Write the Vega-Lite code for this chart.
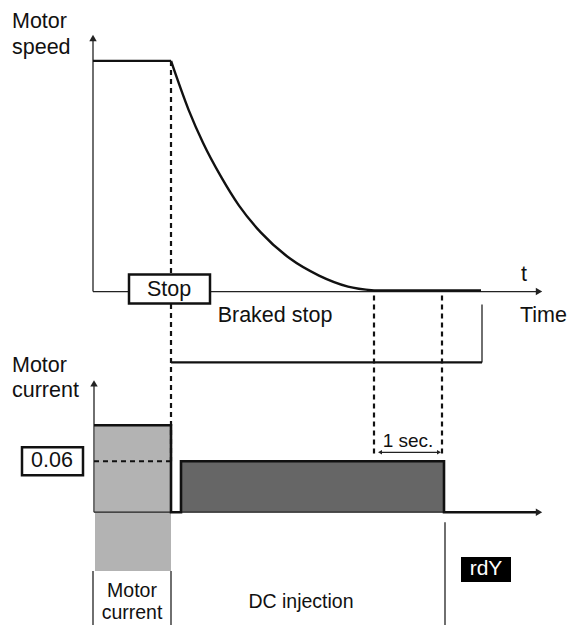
{
  "$schema": "https://vega.github.io/schema/vega-lite/v6.json",
  "width": 568,
  "height": 626,
  "autosize": {"type": "fit", "contains": "padding"},
  "padding": 0,
  "background": "white",
  "config": {"view": {"stroke": null}, "text": {"font": "Liberation Sans", "baseline": "middle", "color": "#111"}},
  "datasets": {
    "fills": [
      {"part": "running current", "x": 95, "x2": 171, "y": 426, "y2": 572},
      {"part": "DC injection", "x": 181, "x2": 444, "y": 462, "y2": 513}
    ],
    "boxes": [
      {"box": "Stop", "x": 129, "x2": 210, "y": 275, "y2": 304},
      {"box": "0.06", "x": 22, "x2": 83, "y": 448, "y2": 476}
    ],
    "rdybox": [{"box": "rdY", "x": 461, "x2": 511, "y": 558, "y2": 583}],
    "speed": [
      {"seg": "run", "i": 0, "x": 93, "y": 61},
      {"seg": "run", "i": 1, "x": 171, "y": 61},
      {"seg": "decel", "i": 2, "x": 171, "y": 61},
      {"seg": "decel", "i": 3, "x": 188.6, "y": 110},
      {"seg": "decel", "i": 4, "x": 203, "y": 143},
      {"seg": "decel", "i": 5, "x": 221, "y": 177},
      {"seg": "decel", "i": 6, "x": 239, "y": 206},
      {"seg": "decel", "i": 7, "x": 261, "y": 233},
      {"seg": "decel", "i": 8, "x": 290, "y": 259},
      {"seg": "decel", "i": 9, "x": 319, "y": 276},
      {"seg": "decel", "i": 10, "x": 348, "y": 287},
      {"seg": "decel", "i": 11, "x": 374, "y": 291},
      {"seg": "stopped", "i": 12, "x": 374, "y": 291},
      {"seg": "stopped", "i": 13, "x": 481, "y": 291}
    ],
    "current": [
      {"i": 0, "x": 94, "y": 426},
      {"i": 1, "x": 171, "y": 426},
      {"i": 2, "x": 171, "y": 513},
      {"i": 3, "x": 181, "y": 513},
      {"i": 4, "x": 181, "y": 462},
      {"i": 5, "x": 444, "y": 462},
      {"i": 6, "x": 444, "y": 513},
      {"i": 7, "x": 538, "y": 513}
    ],
    "thin": [
      {"x": 93, "y": 292, "x2": 93, "y2": 40},
      {"x": 93, "y": 292, "x2": 536, "y2": 292},
      {"x": 94, "y": 513, "x2": 94, "y2": 386},
      {"x": 94, "y": 513, "x2": 536, "y2": 513},
      {"x": 482, "y": 305, "x2": 482, "y2": 363},
      {"x": 445, "y": 523, "x2": 445, "y2": 626},
      {"x": 93, "y": 572, "x2": 93, "y2": 626},
      {"x": 171, "y": 572, "x2": 171, "y2": 626},
      {"x": 380, "y": 453, "x2": 439, "y2": 453}
    ],
    "thick": [
      {"x": 171, "y": 363, "x2": 482, "y2": 363}
    ],
    "dashed": [
      {"x": 171, "y": 61, "x2": 171, "y2": 462},
      {"x": 374, "y": 296, "x2": 374, "y2": 456},
      {"x": 442, "y": 296, "x2": 442, "y2": 456},
      {"x": 94, "y": 462, "x2": 171, "y2": 462}
    ],
    "bigArrows": [
      {"dir": "up", "x": 93, "y": 38},
      {"dir": "up", "x": 94, "y": 384},
      {"dir": "right", "x": 539, "y": 292},
      {"dir": "right", "x": 539, "y": 513}
    ],
    "smallArrows": [
      {"dir": "left", "x": 380, "y": 453},
      {"dir": "right", "x": 439, "y": 453}
    ],
    "labelsLeft": [
      {"t": "Motor", "x": 12, "y": 22},
      {"t": "speed", "x": 12, "y": 48},
      {"t": "Motor", "x": 12, "y": 367},
      {"t": "current", "x": 12, "y": 392},
      {"t": "t", "x": 521, "y": 275},
      {"t": "Time", "x": 520, "y": 317}
    ],
    "labelsCenter": [
      {"t": "Stop", "x": 169, "y": 290},
      {"t": "Braked stop", "x": 275, "y": 317},
      {"t": "0.06", "x": 52, "y": 462}
    ],
    "labelsSmall": [
      {"t": "Motor", "x": 132, "y": 592},
      {"t": "current", "x": 132, "y": 614},
      {"t": "DC injection", "x": 301, "y": 603}
    ],
    "labelsTiny": [
      {"t": "1 sec.", "x": 408, "y": 442}
    ],
    "labelsWhite": [
      {"t": "rdY", "x": 486, "y": 570}
    ]
  },
  "layer": [
    {
      "data": {"name": "fills"},
      "mark": {"type": "rect"},
      "encoding": {
        "x": {"field": "x", "type": "quantitative", "scale": {"domain": [0, 568], "nice": false, "zero": false}, "axis": null},
        "x2": {"field": "x2"},
        "y": {"field": "y", "type": "quantitative", "scale": {"domain": [0, 626], "reverse": true, "nice": false, "zero": false}, "axis": null},
        "y2": {"field": "y2"},
        "color": {"field": "part", "type": "nominal", "scale": {"domain": ["running current", "DC injection"], "range": ["#b3b3b3", "#666666"]}, "legend": null}
      }
    },
    {
      "data": {"name": "thin"},
      "mark": {"type": "rule", "color": "#222", "strokeWidth": 1.3},
      "encoding": {
        "x": {"field": "x", "type": "quantitative"},
        "x2": {"field": "x2"},
        "y": {"field": "y", "type": "quantitative"},
        "y2": {"field": "y2"}
      }
    },
    {
      "data": {"name": "thick"},
      "mark": {"type": "rule", "color": "#111", "strokeWidth": 2.2},
      "encoding": {
        "x": {"field": "x", "type": "quantitative"},
        "x2": {"field": "x2"},
        "y": {"field": "y", "type": "quantitative"},
        "y2": {"field": "y2"}
      }
    },
    {
      "data": {"name": "dashed"},
      "mark": {"type": "rule", "color": "#111", "strokeWidth": 2.2, "strokeDash": [5, 4]},
      "encoding": {
        "x": {"field": "x", "type": "quantitative"},
        "x2": {"field": "x2"},
        "y": {"field": "y", "type": "quantitative"},
        "y2": {"field": "y2"}
      }
    },
    {
      "data": {"name": "speed"},
      "mark": {"type": "line", "color": "#111", "strokeWidth": 2.4, "interpolate": "monotone"},
      "encoding": {
        "x": {"field": "x", "type": "quantitative"},
        "y": {"field": "y", "type": "quantitative"},
        "detail": {"field": "seg", "type": "nominal"},
        "order": {"field": "i", "type": "quantitative"}
      }
    },
    {
      "data": {"name": "current"},
      "mark": {"type": "line", "color": "#111", "strokeWidth": 2.6, "strokeJoin": "miter"},
      "encoding": {
        "x": {"field": "x", "type": "quantitative"},
        "y": {"field": "y", "type": "quantitative"},
        "order": {"field": "i", "type": "quantitative"}
      }
    },
    {
      "data": {"name": "bigArrows"},
      "mark": {"type": "point", "filled": true, "color": "#222", "opacity": 1, "size": 55},
      "encoding": {
        "x": {"field": "x", "type": "quantitative"},
        "y": {"field": "y", "type": "quantitative"},
        "shape": {"field": "dir", "type": "nominal", "scale": {"domain": ["up", "right", "left"], "range": ["triangle-up", "triangle-right", "triangle-left"]}, "legend": null}
      }
    },
    {
      "data": {"name": "smallArrows"},
      "mark": {"type": "point", "filled": true, "color": "#222", "opacity": 1, "size": 22},
      "encoding": {
        "x": {"field": "x", "type": "quantitative"},
        "y": {"field": "y", "type": "quantitative"},
        "shape": {"field": "dir", "type": "nominal", "legend": null}
      }
    },
    {
      "data": {"name": "boxes"},
      "mark": {"type": "rect", "fill": "white", "stroke": "#111", "strokeWidth": 2.5},
      "encoding": {
        "x": {"field": "x", "type": "quantitative"},
        "x2": {"field": "x2"},
        "y": {"field": "y", "type": "quantitative"},
        "y2": {"field": "y2"}
      }
    },
    {
      "data": {"name": "rdybox"},
      "mark": {"type": "rect", "fill": "black"},
      "encoding": {
        "x": {"field": "x", "type": "quantitative"},
        "x2": {"field": "x2"},
        "y": {"field": "y", "type": "quantitative"},
        "y2": {"field": "y2"}
      }
    },
    {
      "data": {"name": "labelsLeft"},
      "mark": {"type": "text", "fontSize": 21.5, "align": "left"},
      "encoding": {
        "x": {"field": "x", "type": "quantitative"},
        "y": {"field": "y", "type": "quantitative"},
        "text": {"field": "t"}
      }
    },
    {
      "data": {"name": "labelsCenter"},
      "mark": {"type": "text", "fontSize": 21.5, "align": "center"},
      "encoding": {
        "x": {"field": "x", "type": "quantitative"},
        "y": {"field": "y", "type": "quantitative"},
        "text": {"field": "t"}
      }
    },
    {
      "data": {"name": "labelsSmall"},
      "mark": {"type": "text", "fontSize": 19.5, "align": "center"},
      "encoding": {
        "x": {"field": "x", "type": "quantitative"},
        "y": {"field": "y", "type": "quantitative"},
        "text": {"field": "t"}
      }
    },
    {
      "data": {"name": "labelsTiny"},
      "mark": {"type": "text", "fontSize": 19, "align": "center"},
      "encoding": {
        "x": {"field": "x", "type": "quantitative"},
        "y": {"field": "y", "type": "quantitative"},
        "text": {"field": "t"}
      }
    },
    {
      "data": {"name": "labelsWhite"},
      "mark": {"type": "text", "fontSize": 21, "align": "center", "color": "white"},
      "encoding": {
        "x": {"field": "x", "type": "quantitative"},
        "y": {"field": "y", "type": "quantitative"},
        "text": {"field": "t"}
      }
    }
  ]
}
